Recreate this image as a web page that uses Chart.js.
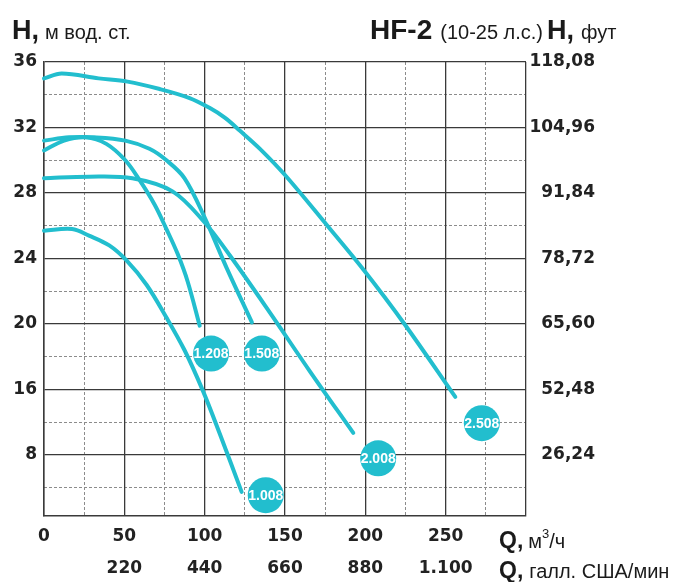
<!DOCTYPE html>
<html>
<head>
<meta charset="utf-8">
<script src="https://cdn.jsdelivr.net/npm/chart.js@4.4.1/dist/chart.umd.min.js"></script>
<style>
    html, body { margin: 0; padding: 0; background: #fff; }
    #wrap { width: 683px; height: 582px; position: relative; }
</style>
</head>
<body>
<div id="wrap"><canvas id="pumpChart"></canvas></div>
<script>
// axis ticks, as printed (the left scale is uneven: 8 -> 16 is one band)
const qTicks = [0, 50, 100, 150, 200, 250];
const qLabels = ['0', '50', '100', '150', '200', '250'];
const qGalLabels = ['', '220', '440', '660', '880', '1.100'];
const hTicks = [0, 8, 16, 20, 24, 28, 32, 36];
const hLabels = ['', '8', '16', '20', '24', '28', '32', '36'];
const ftLabels = ['', '26,24', '52,48', '65,60', '78,72', '91,84', '104,96', '118,08'];

// pump curves, Q (m3/h) and H (m)
const q1008 = [0, 17.5, 28, 40.6, 51.2, 63.8, 76.2, 87.5, 98.8, 109.4, 123];
const h1008 = [25.7, 25.8, 25.4, 24.8, 23.9, 22.4, 20.4, 18.4, 15.9, 10.6, 3.5];
const q1208 = [0, 12.5, 26, 38.8, 50.6, 59.4, 68.8, 76.2, 83.1, 89.4, 96.9];
const h1208 = [30.6, 31.2, 31.4, 31.0, 30.0, 28.8, 27.3, 25.8, 24.3, 22.6, 19.9];
const q1508 = [0, 15.6, 31, 50.6, 65.6, 76.2, 87.5, 100, 113.8, 129.4];
const h1508 = [31.2, 31.4, 31.4, 31.2, 30.7, 30.0, 28.9, 26.5, 23.4, 20.1];
const q2008 = [0, 28, 55, 80, 100, 115.6, 140.6, 165.6, 192.5];
const h2008 = [28.9, 29.0, 28.9, 28.1, 26.2, 24.2, 20.7, 17.1, 10.7];
const q2508 = [0, 11, 34, 52, 72, 90.6, 103, 112.5, 122, 134.4, 150, 176, 199, 224, 256];
const h2508 = [35.0, 35.3, 35.0, 34.8, 34.35, 33.8, 33.2, 32.6, 31.8, 30.7, 29.1, 26.05, 23.3, 20.05, 15.1];

// model badges
const badgeLabels = ['1.008', '1.208', '1.508', '2.008', '2.508'];
const badgeQ = [138, 104, 135.6, 208, 272.5];
const badgeH = [3.1, 18.2, 18.2, 7.6, 11.9];

const CYAN = 'rgb(34, 190, 206)';
const GRID = '#3a3a3a';
const DASH = '#8c8c8c';
const TICK_FONT = { family: '"DejaVu Sans", sans-serif', size: 17, weight: 'bold' };
const NARROW = '"Liberation Sans Narrow", "Liberation Sans", sans-serif';

// map a head value onto the band index of the printed (uneven) scale
function hToPos(h) {
    for (let i = 1; i < hTicks.length; i++) {
        if (h <= hTicks[i]) {
            return i - 1 + (h - hTicks[i - 1]) / (hTicks[i] - hTicks[i - 1]);
        }
    }
    return hTicks.length - 1;
}

function curve(qs, hs) {
    return {
        type: 'line',
        data: qs.map((q, i) => ({ x: q, y: hToPos(hs[i]) })),
        borderColor: CYAN,
        borderWidth: 4,
        borderCapStyle: 'round',
        pointRadius: 0,
        fill: false,
        tension: 0.35,
        clip: false,
        order: 2
    };
}

const setTicks = (values) => (scale) => { scale.ticks = values.map(v => ({ value: v })); };
const halfSteps = (n) => Array.from({ length: n }, (_, i) => i + 0.5);

const textPlugin = {
    id: 'texts',
    afterDatasetsDraw(chart) {
        const ctx = chart.ctx;
        const meta = chart.getDatasetMeta(5);
        ctx.save();
        ctx.fillStyle = '#fff';
        ctx.textAlign = 'center';
        ctx.textBaseline = 'middle';
        ctx.font = 'bold 14px ' + NARROW;
        meta.data.forEach((pt, i) => ctx.fillText(badgeLabels[i], pt.x, pt.y + 1));
        ctx.restore();
    },
    afterDraw(chart) {
        const ctx = chart.ctx;
        ctx.save();
        ctx.fillStyle = '#1a1a1a';
        ctx.textBaseline = 'alphabetic';
        const put = (str, x, y, font) => {
            ctx.font = font;
            ctx.fillText(str, x, y);
            return x + ctx.measureText(str).width;
        };
        const big = 'bold 27px ' + NARROW;
        const small = '20px ' + NARROW;
        // headers
        let x = put('H,', 12, 39, big);
        put('м вод. ст.', x + 6, 39, small);
        x = put('HF-2', 370, 39, 'bold 28px ' + NARROW);
        x = put('(10-25 л.с.)', x + 8, 39, small);
        x = put('H,', x + 4, 39, big);
        put('фут', x + 7, 39, small);
        // flow units
        x = put('Q,', 499, 548, 'bold 23px ' + NARROW);
        x = put('м', x + 5, 548, small);
        x = put('3', x, 538, '13px ' + NARROW);
        put('/ч', x, 548, small);
        x = put('Q,', 499, 578, 'bold 23px ' + NARROW);
        put('галл. США/мин', x + 6, 578, small);
        ctx.restore();
    }
};

new Chart(document.getElementById('pumpChart'), {
    data: {
        datasets: [
            curve(q1008, h1008),
            curve(q1208, h1208),
            curve(q1508, h1508),
            curve(q2008, h2008),
            curve(q2508, h2508),
            {
                type: 'scatter',
                data: badgeQ.map((q, i) => ({ x: q, y: hToPos(badgeH[i]) })),
                backgroundColor: CYAN,
                borderWidth: 0,
                pointRadius: 18,
                pointHoverRadius: 18,
                clip: false,
                order: 1
            }
        ]
    },
    options: {
        responsive: true,
        maintainAspectRatio: false,
        animation: false,
        events: [],
        layout: { padding: { top: 62, left: 0, right: 88, bottom: 0 } },
        plugins: { legend: { display: false }, tooltip: { enabled: false } },
        scales: {
            x: {
                type: 'linear', position: 'bottom', min: 0, max: 300,
                afterBuildTicks: setTicks([0, 50, 100, 150, 200, 250, 300]),
                afterFit: (s) => { s.height = 34; },
                grid: { color: GRID, lineWidth: 1.3, drawTicks: false },
                border: { color: GRID, width: 1.5 },
                ticks: {
                    font: TICK_FONT, color: '#222', padding: 10, maxRotation: 0, autoSkip: false,
                    callback: (v) => { const i = qTicks.indexOf(v); return i < 0 ? '' : qLabels[i]; }
                }
            },
            x2: {
                type: 'linear', position: 'bottom', min: 0, max: 300,
                afterBuildTicks: setTicks(qTicks),
                afterFit: (s) => { s.height = 32; },
                grid: { display: false, drawTicks: false },
                border: { display: false },
                ticks: {
                    font: TICK_FONT, color: '#222', padding: 8, maxRotation: 0, autoSkip: false,
                    callback: (v) => qGalLabels[qTicks.indexOf(v)]
                }
            },
            xd: {
                type: 'linear', position: 'top', min: 0, max: 300,
                afterBuildTicks: setTicks([25, 75, 125, 175, 225, 275]),
                afterFit: (s) => { s.height = 0; },
                grid: { color: DASH, lineWidth: 1, drawTicks: false, z: -2 },
                border: { display: false, dash: [3, 2] },
                ticks: { display: false }
            },
            y: {
                type: 'linear', position: 'left', min: 0.07, max: 7,
                afterBuildTicks: setTicks([1, 2, 3, 4, 5, 6, 7]),
                afterFit: (s) => { s.width = 44; },
                grid: { color: GRID, lineWidth: 1.3, drawTicks: false },
                border: { color: GRID, width: 1.5 },
                ticks: { font: TICK_FONT, color: '#222', padding: 7, callback: (v) => hLabels[v] }
            },
            y2: {
                type: 'linear', position: 'right', min: 0.07, max: 7,
                afterBuildTicks: setTicks([1, 2, 3, 4, 5, 6, 7]),
                afterFit: (s) => { s.width = 69; },
                grid: { display: false, drawTicks: false },
                border: { display: false },
                ticks: { font: TICK_FONT, color: '#222', padding: 4, crossAlign: 'far', callback: (v) => ftLabels[v] }
            },
            yd: {
                type: 'linear', position: 'left', min: 0.07, max: 7,
                afterBuildTicks: setTicks(halfSteps(7)),
                afterFit: (s) => { s.width = 0; },
                grid: { color: DASH, lineWidth: 1, drawTicks: false, z: -2 },
                border: { display: false, dash: [3, 2] },
                ticks: { display: false }
            }
        }
    },
    plugins: [textPlugin]
});
</script>
</body>
</html>
